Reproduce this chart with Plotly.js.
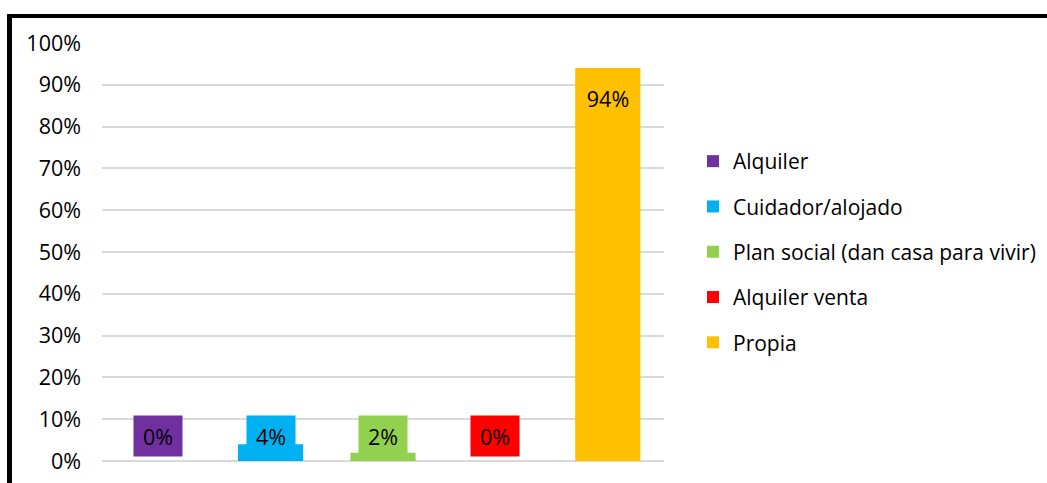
<!DOCTYPE html>
<html>
<head>
<meta charset="utf-8">
<script src="https://cdn.plot.ly/plotly-3.0.1.min.js"></script>
<style>
  html, body { margin: 0; padding: 0; background: #ffffff; }
  #wrap { position: relative; width: 1047px; height: 483px; overflow: hidden; }
  #chart { width: 1047px; height: 483px; }
  #frame { position: absolute; left: 7px; top: 14px; width: 1100px; height: 520px;
           border-top: 4px solid #000; border-left: 5px solid #000; pointer-events: none; }
</style>
</head>
<body>
<div id="wrap">
  <div id="chart"></div>
  <div id="frame"></div>
</div>
<script>
const categories = ["Alquiler", "Cuidador/alojado", "Plan social (dan casa para vivir)", "Alquiler venta", "Propia"];
const values = [0, 0.04, 0.02, 0, 0.94];
const labels = ["0%", "4%", "2%", "0%", "94%"];
const colors = ["#7030A0", "#00B0F0", "#92D050", "#FF0000", "#FFC000"];
const yTickVals = [0, 0.1, 0.2, 0.3, 0.4, 0.5, 0.6, 0.7, 0.8, 0.9, 1.0];
const yTickText = ["0%", "10%", "20%", "30%", "40%", "50%", "60%", "70%", "80%", "90%", "100%"];

const FONT = "Open Sans, Noto Sans, sans-serif";

const traces = categories.map((c, i) => ({
  type: "bar",
  name: c,
  x: [c],
  y: [values[i]],
  width: 0.58,
  marker: { color: colors[i] },
  legendgroup: "g" + i,
  hoverinfo: "none"
}));

const annotations = categories.map((c, i) => ({
  x: c,
  y: Math.max(values[i], 0.11),
  xref: "x",
  yref: "y",
  yanchor: "top",
  yshift: values[i] > 0.11 ? -9 : 0,
  text: labels[i],
  showarrow: false,
  bgcolor: colors[i],
  width: 46,
  height: 38,
  font: { family: FONT, size: 21.5, color: "#000" }
}));

const layout = {
  width: 1047,
  height: 483,
  margin: { l: 102, r: 0, t: 43, b: 22 },
  paper_bgcolor: "#ffffff",
  plot_bgcolor: "#ffffff",
  font: { family: FONT, size: 21, color: "#000" },
  barmode: "overlay",
  showlegend: true,
  legend: {
    x: 0.6254, xanchor: "left",
    y: 0.50, yanchor: "middle",
    traceorder: "grouped",
    tracegroupgap: 15,
    itemwidth: 30,
    font: { family: FONT, size: 21, color: "#000" },
    bgcolor: "rgba(0,0,0,0)"
  },
  xaxis: {
    domain: [0, 0.5947],
    type: "category",
    categoryorder: "array",
    categoryarray: categories,
    showticklabels: false,
    showgrid: false,
    zeroline: false,
    showline: false,
    ticks: ""
  },
  yaxis: {
    range: [0, 1],
    tickvals: yTickVals,
    ticktext: yTickText,
    showgrid: true,
    gridcolor: "#d9d9d9",
    gridwidth: 2,
    zeroline: true,
    zerolinecolor: "#d9d9d9",
    zerolinewidth: 2,
    showline: false,
    ticks: "",
    ticklabelstandoff: 20,
    tickfont: { family: FONT, size: 21.5, color: "#000" }
  },
  annotations: annotations
};

Plotly.newPlot("chart", traces, layout, { displayModeBar: false, staticPlot: true });
</script>
</body>
</html>
